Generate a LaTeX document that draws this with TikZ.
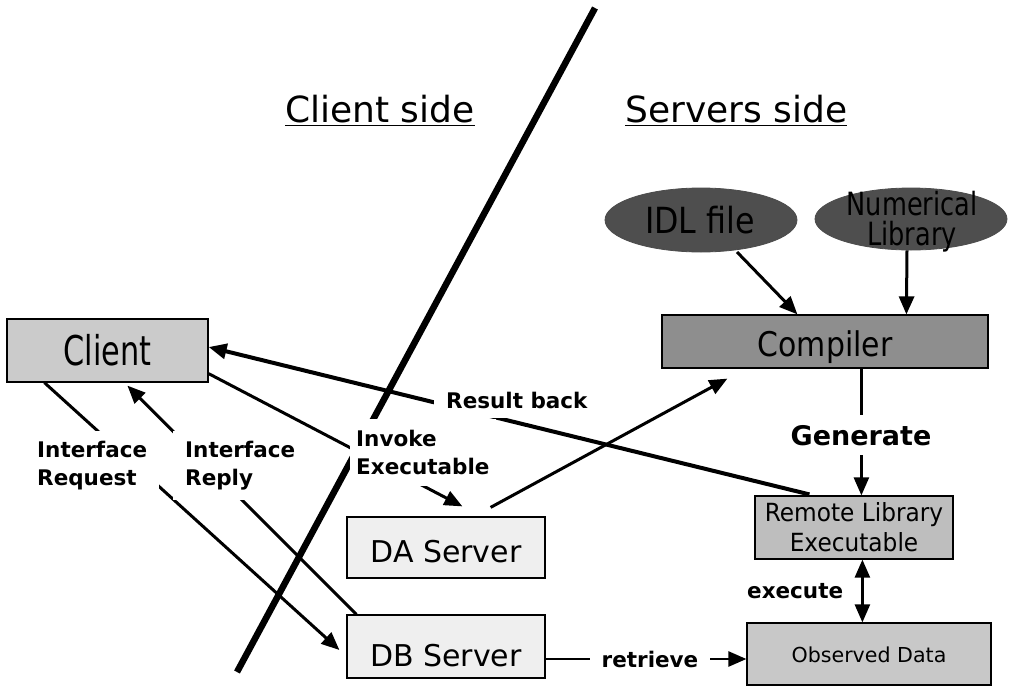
\documentclass[tikz,border=0pt]{standalone}
\usepackage{fontspec}
\setmainfont{DejaVu Sans}
\usetikzlibrary{arrows.meta,calc,shapes.geometric}

\definecolor{clientgray}{HTML}{CBCBCB}
\definecolor{compgray}{HTML}{8E8E8E}
\definecolor{ovalgray}{HTML}{4E4E4E}
\definecolor{remgray}{HTML}{BEBEBE}
\definecolor{obsgray}{HTML}{C8C8C8}
\definecolor{srvgray}{HTML}{EFEFEF}

\newcommand{\fs}[2]{\fontsize{#1}{#2}\selectfont}
\newcommand{\sx}[2]{\scalebox{#1}[1]{#2}}

\begin{document}
\begin{tikzpicture}[x=1pt,y=-1pt,
  >={Triangle[length=18pt,width=15pt]},
  box/.style={draw=black, line width=1.2pt, inner sep=0pt},
  oval/.style={ellipse, draw=black!70, line width=0.8pt, fill=ovalgray, inner sep=0pt},
  conn/.style={line width=3pt, ->},
  lbl/.style={fill=white, inner xsep=12pt, inner ysep=10pt, font=\fs{21.5}{28}\bfseries, align=left},
  title/.style={font=\fs{36}{36}, inner sep=0pt, anchor=base west},
]
\fill[white] (0,0) rectangle (1010,686);
\useasboundingbox (0,0) rectangle (1010,686);

% headings
\node[title] (cside) at (285,122) {Client side};
\node[title] (sside) at (625,122) {Servers side};
\draw[line width=1.8pt] ($(cside.base west)+(0,3.5)$) -- ($(cside.base east)+(0,3.5)$);
\draw[line width=1.8pt] ($(sside.base west)+(0,3.5)$) -- ($(sside.base east)+(0,3.5)$);

% dividing stroke between the two sides
\coordinate (divtop) at (595,8);
\coordinate (divbot) at (237,672);
\draw[line width=6.5pt] (divtop) -- (divbot);

% boxes
\node[box, fill=clientgray, minimum width=201pt, minimum height=63pt, text height=29pt, text depth=0pt]
  (client) at (107.5,350.5) {\fs{41}{41}\sx{0.74}{Client}};
\node[box, fill=compgray, minimum width=326pt, minimum height=53pt, text height=30pt, text depth=0pt]
  (compiler) at (825,341.5) {\fs{34}{34}\sx{0.88}{Compiler}};
\node[box, fill=srvgray, minimum width=198pt, minimum height=61pt, text height=29pt, text depth=0pt]
  (da) at (446,547.5) {\fs{30}{30}DA Server};
\node[box, fill=srvgray, minimum width=198pt, minimum height=63pt, text height=40pt, text depth=0pt]
  (db) at (446,646.5) {\fs{30}{30}DB Server};
\node[box, fill=remgray, minimum width=198pt, minimum height=63pt, align=center, font=\fs{25}{30}]
  (remote) at (854,527.5) {\sx{0.93}{Remote Library}\\\sx{0.93}{Executable}};
\node[box, fill=obsgray, minimum width=244pt, minimum height=62pt, text height=16pt, text depth=0pt]
  (observed) at (869,654) {\fs{20.6}{21}Observed Data};

% inputs of the compiler
\node[oval, minimum width=192pt, minimum height=64pt] (idl) at (701,220) {};
\node[inner sep=0pt, font=\fs{36}{36}] (idltext) at (700,220) {\sx{0.88}{IDL file}};
\node[oval, minimum width=192pt, minimum height=62pt] (numlib) at (911,219) {};
\node[inner sep=0pt, font=\fs{32}{30}, align=center] (numtext) at (912,222) {\sx{0.8}{Numerical}\\\sx{0.8}{Library}};

% connectors
\draw[conn] ($(client.south west)+(38,0)$) -- ($(db.west)+(-7,3.5)$);
\draw[conn] ($(db.north west)+(10,0)$) -- ($(client.south west)+(121,3)$);
\draw[conn] ($(client.south east)+(0,-9)$) -- ($(da.north west)+(116,-10)$);
\draw[conn] ($(da.north east)+(-55,-9)$) -- ($(compiler.south west)+(66,10)$);
\draw[conn, line width=4pt] ($(remote.north west)+(55,-1)$) -- ($(client.east)+(0,-3.5)$);
\draw[conn] ($(idl.center)+(36,32)$) -- ($(compiler.north west)+(136,0)$);
\draw[conn] ($(numlib.south)+(-4,0)$) -- ($(compiler.north west)+(245,0)$);
\draw[conn, line width=2.5pt] ($(compiler.south west)+(200,0)$) -- ($(remote.north west)+(107,0)$);
\draw[conn, line width=2.5pt, <->] ($(remote.south west)+(108,0)$) -- ($(observed.north west)+(116,0)$);
\draw[conn, line width=2.5pt] ($(db.east)+(0,12.5)$) -- ($(observed.west)+(0,5)$);

% labels laid over the connectors
\node[lbl, anchor=north west] (ireq) at (25,431) {Interface\\Request};
\node[lbl, anchor=north west] (irep) at (173,431) {Interface\\Reply};
\node[lbl, anchor=north west, inner xsep=6pt, inner ysep=11pt] (invoke) at (350,419) {Invoke\\Executable};
\node[lbl, anchor=base west] (rback) at (434,408) {Result back};
\node[lbl, anchor=base, font=\fs{27}{27}\bfseries] (gen) at (861,445) {Generate};
\node[lbl, anchor=base] (retr) at (650,667) {retrieve};
\node[lbl, anchor=base west, fill=none] (exec) at (735,598) {execute};
\end{tikzpicture}
\end{document}
